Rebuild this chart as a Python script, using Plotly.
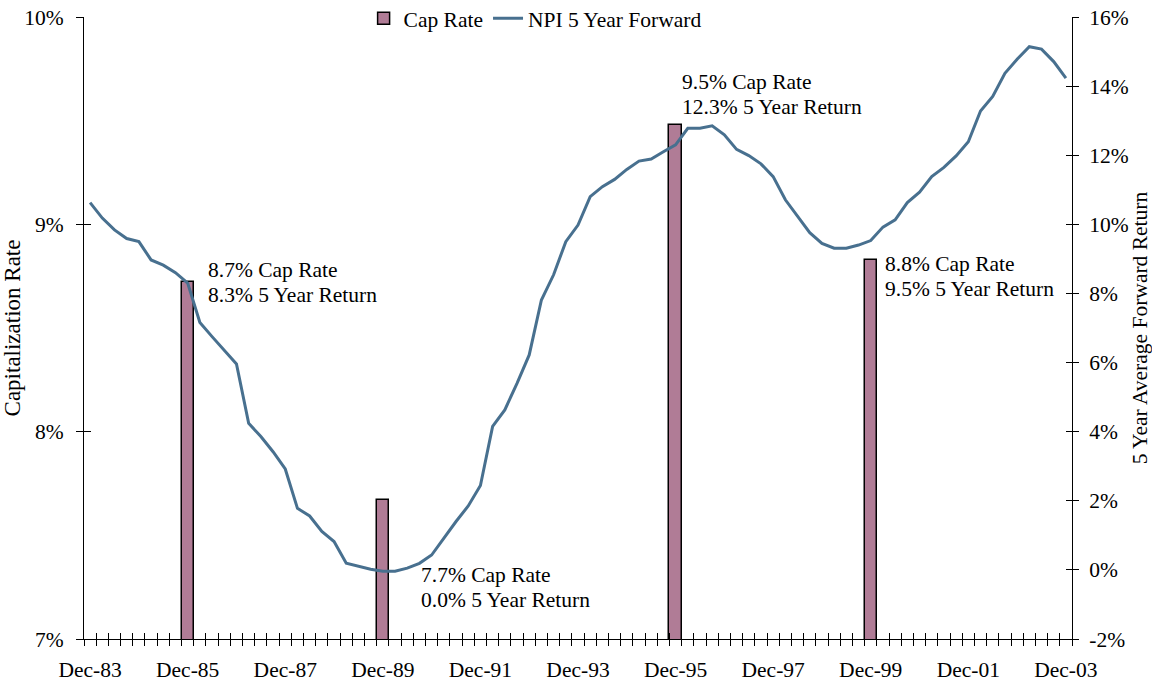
import plotly.graph_objects as go

# ---- data ----
months = ["Mar", "Jun", "Sep", "Dec"]
quarters = [f"{months[(3 + i) % 4]}-{(83 + (3 + i) // 4) % 100:02d}" for i in range(81)]

npi_5yr_forward = [
    10.63, 10.18, 9.84, 9.59, 9.50, 8.97, 8.82, 8.60, 8.30, 7.16,
    6.75, 6.37, 5.96, 4.24, 3.86, 3.42, 2.92, 1.78, 1.56, 1.11,
    0.82, 0.19, 0.10, 0.02, -0.04, -0.04, 0.05, 0.19, 0.43, 0.92,
    1.40, 1.85, 2.44, 4.15, 4.63, 5.40, 6.22, 7.81, 8.54, 9.50,
    9.98, 10.80, 11.09, 11.30, 11.59, 11.83, 11.89, 12.10, 12.30, 12.78,
    12.78, 12.85, 12.59, 12.17, 11.99, 11.75, 11.38, 10.71, 10.22, 9.76,
    9.45, 9.31, 9.31, 9.40, 9.53, 9.92, 10.13, 10.63, 10.93, 11.38,
    11.65, 11.98, 12.39, 13.28, 13.70, 14.37, 14.78, 15.14, 15.07, 14.71,
    14.23,
]

cap_dates = ["Dec-85", "Dec-89", "Dec-95", "Dec-99"]
cap_rates = [8.72, 7.67, 9.48, 8.83]

label_dates = ["Dec-83", "Dec-85", "Dec-87", "Dec-89", "Dec-91", "Dec-93",
               "Dec-95", "Dec-97", "Dec-99", "Dec-01", "Dec-03"]
left_ticks = [7, 8, 9, 10]
right_ticks = [-2, 0, 2, 4, 6, 8, 10, 12, 14, 16]

notes = [
    ("8.7% Cap Rate", "8.3% 5 Year Return"),
    ("7.7% Cap Rate", "0.0% 5 Year Return"),
    ("9.5% Cap Rate", "12.3% 5 Year Return"),
    ("8.8% Cap Rate", "9.5% 5 Year Return"),
]
# (left x, first-line y, second-line y) in paper fractions
note_pos = [(0.1235, 0.5932, 0.5531), (0.339, 0.1029, 0.0627),
            (0.603, 0.8955, 0.8553), (0.8087, 0.6029, 0.5627)]

FONT = "Liberation Serif"
FS = 21.5
BAR_COLOR = "#B07C96"
LINE_COLOR = "#48708F"

fig = go.Figure()
fig.add_trace(go.Bar(
    x=cap_dates, y=cap_rates, base=0, width=1, name="Cap Rate",
    marker=dict(color=BAR_COLOR, line=dict(color="black", width=1.5)),
    yaxis="y", xaxis="x",
))
fig.add_trace(go.Scatter(
    x=quarters, y=npi_5yr_forward, mode="lines", name="NPI 5 Year Forward",
    line=dict(color=LINE_COLOR, width=3), yaxis="y2", xaxis="x",
))
# empty helper traces so the tick-only overlay axes get drawn
fig.add_trace(go.Scatter(x=[], y=[], xaxis="x2", yaxis="y3", showlegend=False,
                         hoverinfo="skip"))
fig.add_trace(go.Scatter(x=[], y=[], xaxis="x3", yaxis="y4", showlegend=False,
                         hoverinfo="skip"))

n = len(quarters)
xrange = [-0.5, n - 0.5]
boundaries = [k - 0.5 for k in range(n + 1)]

fig.update_layout(
    width=1152, height=685,
    margin=dict(l=84, r=80, t=17, b=46, autoexpand=False),
    paper_bgcolor="white", plot_bgcolor="white",
    font=dict(family=FONT, size=FS, color="black"),
    showlegend=True,
    legend=dict(orientation="h", x=0.283, xanchor="left", y=0.998, yanchor="middle",
                bgcolor="rgba(0,0,0,0)", font=dict(size=FS)),
    bargap=0,
    xaxis=dict(type="category", categoryorder="array", categoryarray=quarters,
               range=xrange, tickmode="array", tickvals=label_dates,
               ticks="outside", ticklen=11, tickcolor="rgba(0,0,0,0)",
               showline=True, linecolor="black", linewidth=1, showgrid=False,
               zeroline=False, tickfont=dict(size=FS), automargin=False),
    xaxis2=dict(overlaying="x", anchor="y", type="linear", range=xrange,
                tickmode="array", tickvals=boundaries, ticks="outside", ticklen=6,
                tickcolor="black", showticklabels=False, showgrid=False,
                zeroline=False, showline=False, automargin=False),
    xaxis3=dict(overlaying="x", anchor="y", type="linear", range=xrange,
                tickmode="array", tickvals=boundaries, ticks="inside", ticklen=6,
                tickcolor="black", showticklabels=False, showgrid=False,
                zeroline=False, showline=False, automargin=False),
    yaxis=dict(range=[7, 10], tickmode="array", tickvals=left_ticks,
               ticktext=[f"{v}%" for v in left_ticks], ticks="outside", ticklen=7,
               tickcolor="black", ticklabelstandoff=8, automargin=False,
               showline=True, linecolor="black", linewidth=1, showgrid=False,
               zeroline=False,
               title=dict(text="Capitalization Rate", font=dict(size=23), standoff=6)),
    yaxis2=dict(range=[-2, 16], overlaying="y", side="right", anchor="x",
                tickmode="array", tickvals=right_ticks,
                ticktext=[f"{v}%" for v in right_ticks], ticks="outside", ticklen=6,
                tickcolor="black", ticklabelstandoff=6, automargin=False,
                showline=True, linecolor="black", linewidth=1, showgrid=False,
                zeroline=False,
                title=dict(text="5 Year Average Forward Return", font=dict(size=FS),
                           standoff=0)),
    yaxis3=dict(range=[7, 10], overlaying="y", side="left", anchor="x2",
                tickmode="array", tickvals=left_ticks, ticks="inside", ticklen=7,
                tickcolor="black", showticklabels=False, showgrid=False,
                zeroline=False, showline=False, automargin=False),
    yaxis4=dict(range=[-2, 16], overlaying="y", side="right", anchor="x3",
                tickmode="array", tickvals=right_ticks, ticks="inside", ticklen=6,
                tickcolor="black", showticklabels=False, showgrid=False,
                zeroline=False, showline=False, automargin=False),
)

for (line1, line2), (px, py1, py2) in zip(notes, note_pos):
    for text, py in ((line1, py1), (line2, py2)):
        fig.add_annotation(text=text, xref="paper", yref="paper", x=px, y=py,
                           xanchor="left", yanchor="middle", align="left",
                           showarrow=False, font=dict(size=FS, family=FONT))

fig.write_html("out.html",
               config={"displayModeBar": False},
               post_script="document.body.style.margin='0';"
                           "document.body.style.overflow='hidden';")
